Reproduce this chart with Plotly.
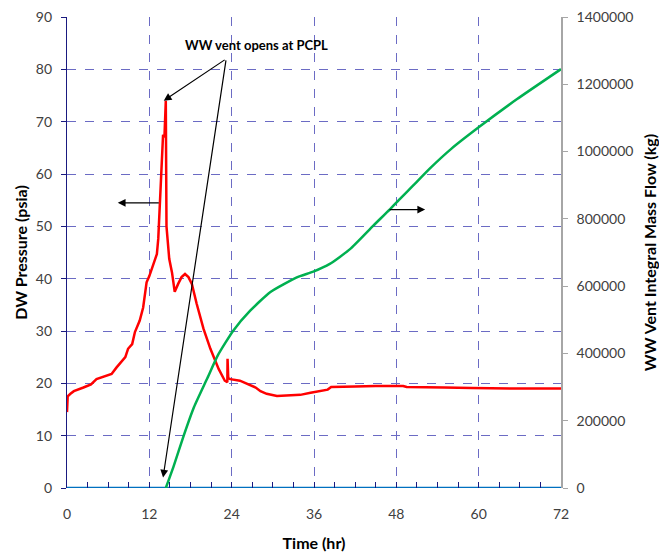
import plotly.graph_objects as go

# DW pressure (psia) vs time (hr)
dw_time = [0.0, 0.1, 0.5, 1.0, 2.4, 3.5, 4.3, 5.5, 6.5, 7.2, 7.7, 8.5, 8.9, 9.5, 9.9, 10.6, 11.1,
           11.6, 12.0, 12.6, 13.1, 13.3, 13.8, 14.0, 14.2, 14.3, 14.4, 14.5, 14.9, 15.3,
           15.7, 16.2, 16.7, 17.2, 17.7, 18.2, 18.9, 19.9, 20.9, 22.1, 23.0, 23.37,
           23.4, 23.5, 23.8, 25.2, 26.7, 27.5, 28.2, 29.1, 30.6, 32.0, 34.0, 35.5, 36.9,
           38.0, 38.5, 40.0, 42.0, 45.0, 48.0, 49.0, 49.5, 52.0, 55.0, 59.0, 63.0, 66.0, 72.0]
dw_pressure = [14.5, 17.5, 18.0, 18.5, 19.2, 19.8, 20.8, 21.4, 21.8, 23.0, 23.7, 25.0, 26.6, 27.5, 29.8,
               32.0, 34.5, 39.3, 40.5, 42.8, 44.7, 47.6, 62.0, 67.5, 67.0, 70.0, 74.0, 50.0, 43.8,
               41.2, 37.5, 39.0, 40.3, 40.9, 40.3, 39.0, 35.2, 30.4, 26.6, 22.75, 20.5, 20.2,
               24.7, 21.0, 20.8, 20.5, 19.6, 19.2, 18.5, 18.0, 17.6, 17.7, 17.8, 18.2, 18.5,
               18.8, 19.3, 19.4, 19.4, 19.5, 19.6, 19.5, 19.3, 19.3, 19.2, 19.1, 19.0, 19.0, 19.0]

# WW vent integral mass flow (kg) vs time (hr)
ww_time = [14.4, 15.5, 17.0, 18.5, 20.4, 22.0, 24.2, 26.7, 29.6, 33.5, 35.9, 38.3,
           41.25, 44.65, 47.1, 48.5, 50.5, 52.9, 56.0, 60.0, 65.6, 72.0]
ww_mass = [0, 62000, 155000, 240000, 324000, 395000, 467000, 527000, 582000, 626000, 643000,
           666000, 710000, 780000, 829000, 859000, 900000, 950000, 1008000, 1072000, 1156000, 1245000]

# Zero baseline series
base_time = [0, 72]
base_value = [0, 0]

x_ticks = [0, 12, 24, 36, 48, 60, 72]
y_ticks = [0, 10, 20, 30, 40, 50, 60, 70, 80, 90]
y2_ticks = [0, 200000, 400000, 600000, 800000, 1000000, 1200000, 1400000]

FONT = "Lato"
TICK_COLOR = "#404040"
GRID = "#6b6bc4"

fig = go.Figure()
fig.add_trace(go.Scatter(x=ww_time, y=ww_mass, yaxis="y2", mode="lines",
                         line=dict(color="#00b050", width=2.5, shape="spline", smoothing=0.5),
                         showlegend=False))
fig.add_trace(go.Scatter(x=base_time, y=base_value, mode="lines",
                         line=dict(color="#0070c0", width=2.5), showlegend=False, cliponaxis=False))
fig.add_trace(go.Scatter(x=dw_time, y=dw_pressure, mode="lines",
                         line=dict(color="#ff0000", width=2.5), showlegend=False))

arrow = dict(showarrow=True, arrowhead=2, arrowsize=1.3, arrowwidth=1.2, arrowcolor="black",
             text="", axref="x", ayref="y", xref="x", yref="y")
annotations = [
    dict(x=14.1, y=74.0, ax=23.2, ay=82.0, **arrow),
    dict(x=14.0, y=2.0, ax=23.2, ay=82.0, **arrow),
    dict(x=7.4, y=54.5, ax=13.6, ay=54.5, **arrow),
    dict(x=52.2, y=53.2, ax=46.8, ay=53.2, **arrow),
    dict(x=27.6, y=84.6, xref="x", yref="y", text="WW vent opens at PCPL", showarrow=False,
         font=dict(family=FONT, size=13, color="black", weight="bold")),
]

fig.update_layout(
    width=659, height=554,
    margin=dict(l=67, r=98, t=17, b=66),
    paper_bgcolor="white", plot_bgcolor="white",
    font=dict(family=FONT, size=14, color=TICK_COLOR),
    annotations=annotations,
    xaxis=dict(range=[0, 72], tickvals=x_ticks, ticks="inside", ticklen=6, tickcolor="#1a1a80",
               showgrid=True, gridcolor=GRID, griddash="dash", gridwidth=1, automargin=False,
               zeroline=False, showline=False, ticklabelstandoff=16,
               minor=dict(dtick=3, tick0=0, ticks="inside", ticklen=6, tickcolor="#1a1a80", showgrid=False),
               title=dict(text="Time (hr)", font=dict(family=FONT, size=16, color="black", weight="bold"),
                          standoff=16),
               tickfont=dict(family=FONT, size=14, color=TICK_COLOR)),
    yaxis=dict(range=[0, 90], tickvals=y_ticks, ticks="outside", ticklen=5, tickcolor="#1a1a80",
               showgrid=True, gridcolor=GRID, griddash="dash", gridwidth=1, automargin=False,
               zeroline=False, showline=True, linecolor="#1a1a80", linewidth=1.2,
               ticklabelstandoff=6,
               title=dict(text="DW Pressure (psia)", font=dict(family=FONT, size=16, color="black", weight="bold"),
                          standoff=4),
               tickfont=dict(family=FONT, size=14, color=TICK_COLOR)),
    yaxis2=dict(range=[0, 1400000], tickvals=y2_ticks, overlaying="y", side="right",
                ticks="outside", ticklen=5, tickcolor="#a6a6a6", showgrid=False, zeroline=False,
                showline=True, linecolor="#a6a6a6", linewidth=1.5, ticklabelstandoff=6,
                tickformat="d", automargin=False,
                title=dict(text="WW Vent Integral Mass Flow (kg)",
                           font=dict(family=FONT, size=16, color="black", weight="bold"), standoff=12),
                tickfont=dict(family=FONT, size=14, color=TICK_COLOR)),
)

fig.write_html("out.html")
